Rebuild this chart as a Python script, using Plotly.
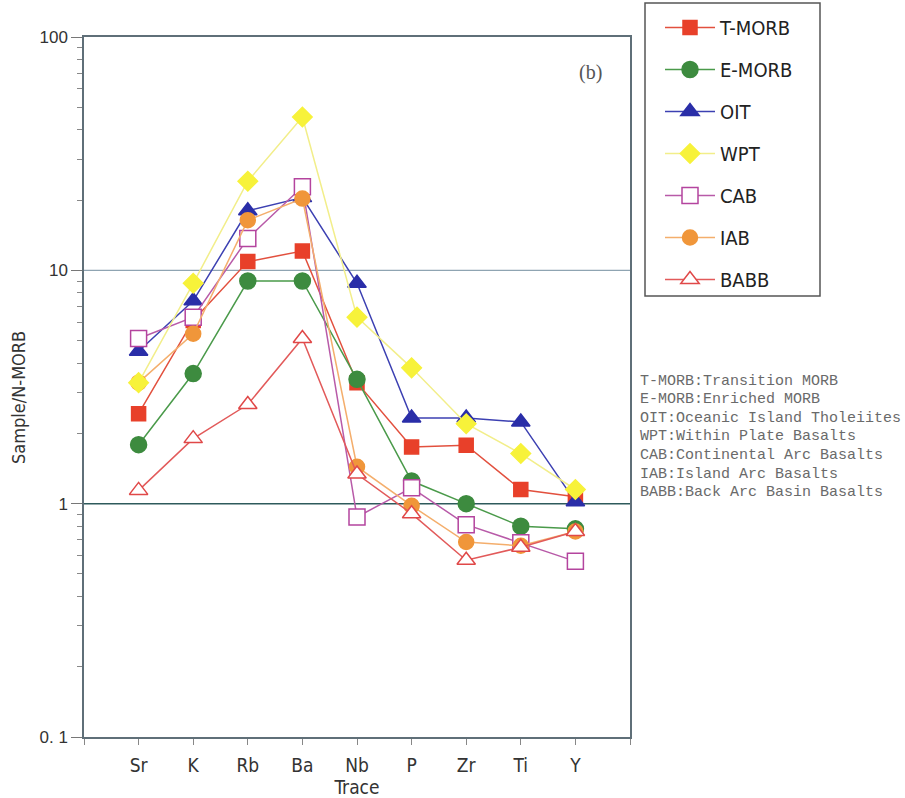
import plotly.graph_objects as go

# Trace elements on the x axis
elements = ["Sr", "K", "Rb", "Ba", "Nb", "P", "Zr", "Ti", "Y"]

# Sample / N-MORB normalised values
t_morb = [2.43, 6.1, 10.9, 12.1, 3.3, 1.75, 1.78, 1.15, 1.07]
e_morb = [1.79, 3.61, 9.0, 9.0, 3.41, 1.25, 1.0, 0.80, 0.78]
oit = [4.5, 7.4, 18.0, 20.5, 8.8, 2.33, 2.33, 2.24, 1.02]
wpt = [3.3, 8.8, 24.1, 45.4, 6.3, 3.82, 2.20, 1.64, 1.15]
cab = [5.1, 6.3, 13.7, 22.8, 0.877, 1.17, 0.813, 0.68, 0.566]
iab = [3.3, 5.35, 16.4, 20.3, 1.44, 0.98, 0.685, 0.66, 0.76]
babb = [1.14, 1.90, 2.66, 5.1, 1.34, 0.906, 0.572, 0.65, 0.76]

key_lines = [
    "T-MORB:Transition MORB",
    "E-MORB:Enriched MORB",
    "OIT:Oceanic Island Tholeiites",
    "WPT:Within Plate Basalts",
    "CAB:Continental Arc Basalts",
    "IAB:Island Arc Basalts",
    "BABB:Back Arc Basin Basalts",
]

x_idx = list(range(len(elements)))
narrow = "DejaVu Sans Condensed, Liberation Sans Narrow, Arial Narrow, sans-serif"

# name, values, symbol, fill, edge, line colour, size, legend rank
series = [
    ("T-MORB", t_morb, "square", "#e8402a", "#e8402a", "#e2503e", 14, 1),
    ("E-MORB", e_morb, "circle", "#3d8b3f", "#3d8b3f", "#4a9a4a", 16, 2),
    ("OIT", oit, "triangle-up", "#2a2ea8", "#2a2ea8", "#3c40b2", 16, 3),
    ("CAB", cab, "square", "white", "#b4449e", "#b85aa8", 16, 5),
    ("IAB", iab, "circle", "#f0963a", "#f0963a", "#f4ae6c", 15, 6),
    ("WPT", wpt, "diamond", "#f7f23a", "#f7f23a", "#f2ee8a", 15, 4),
    ("BABB", babb, "triangle-up", "white", "#e04848", "#e25a5a", 16, 7),
]

fig = go.Figure()
for name, vals, sym, fill, edge, lc, size, rank in series:
    fig.add_trace(go.Scatter(
        x=x_idx, y=vals, name=name, mode="lines+markers",
        legendgroup=name, legendrank=rank,
        line=dict(color=lc, width=1.5),
        marker=dict(symbol=sym, size=size, color=fill,
                    line=dict(color=edge, width=1.5)),
    ))

# reference lines at 10 and 1
fig.add_shape(type="line", xref="paper", x0=0, x1=1, yref="y", y0=10, y1=10,
              line=dict(color="#8fa4b2", width=1.3), layer="below")
fig.add_shape(type="line", xref="paper", x0=0, x1=1, yref="y", y0=1, y1=1,
              line=dict(color="#2e5a5c", width=1.5), layer="below")

# frame around the legend
PW, PH = 546, 700
fig.add_shape(type="rect", xref="paper", yref="paper",
              x0=(645 - 84) / PW, x1=(820 - 84) / PW,
              y0=(737 - 296) / PH, y1=(737 - 3) / PH,
              line=dict(color="#555", width=1.5), fillcolor="rgba(0,0,0,0)")

fig.update_xaxes(
    range=[-1, 9],
    automargin=False,
    tickmode="array",
    tickvals=list(range(-1, 10)),
    ticktext=[""] + elements + [""],
    ticks="outside", ticklen=6, tickcolor="#888",
    ticklabelstandoff=4,
    showgrid=False, zeroline=False,
    showline=True, mirror=True, linecolor="#5f6f78", linewidth=1.5,
    tickfont=dict(family=narrow, size=19, color="#333"),
    title=dict(text="Trace", standoff=8,
               font=dict(family=narrow, size=19, color="#333")),
)

minor_vals = [m * d for d in (0.1, 1, 10) for m in range(2, 10)]
fig.update_yaxes(
    type="log", range=[-1, 2],
    automargin=False,
    tickmode="array", tickvals=[0.1, 1, 10, 100],
    ticktext=["0. 1", "1", "10", "100"],
    ticks="outside", ticklen=11, tickcolor="#777",
    minor=dict(tickmode="array", tickvals=minor_vals, ticks="outside",
               ticklen=5, tickcolor="#888", showgrid=False),
    showgrid=False, zeroline=False,
    showline=True, mirror=True, linecolor="#5f6f78", linewidth=1.5,
    tickfont=dict(family="Liberation Sans, Arial, sans-serif", size=17, color="#333"),
)

annotations = [
    dict(text="Sample/N-MORB", xref="paper", yref="paper",
         x=(18 - 84) / PW, y=(737 - 398) / PH, textangle=-90,
         xanchor="center", yanchor="middle",
         showarrow=False, font=dict(family=narrow, size=18, color="#333")),
    dict(text="(b)", xref="paper", yref="paper",
         x=(590 - 84) / PW, y=(737 - 72) / PH, showarrow=False,
         xanchor="center", yanchor="middle",
         font=dict(family="Liberation Serif, serif", size=20, color="#555")),
]
for i, line in enumerate(key_lines):
    ypix = 381 + i * 18.6
    annotations.append(dict(
        text=line, xref="paper", yref="paper", x=(638 - 84) / PW,
        y=(737 - ypix) / PH, xanchor="left", yanchor="middle",
        showarrow=False,
        font=dict(family="Liberation Mono, DejaVu Sans Mono, monospace",
                  size=15, color="#6a6a6a"),
    ))

fig.update_layout(
    width=905, height=798,
    margin=dict(l=84, r=275, t=37, b=61, autoexpand=False),
    paper_bgcolor="white", plot_bgcolor="white",
    showlegend=True,
    legend=dict(
        x=(660 - 84) / PW, y=1 + (37 - 8) / PH,
        xanchor="left", yanchor="top",
        borderwidth=0, bgcolor="rgba(0,0,0,0)",
        font=dict(family=narrow, size=20, color="#222"),
        tracegroupgap=13, itemwidth=50,
    ),
    annotations=annotations,
)

fig.write_html("out.html")
